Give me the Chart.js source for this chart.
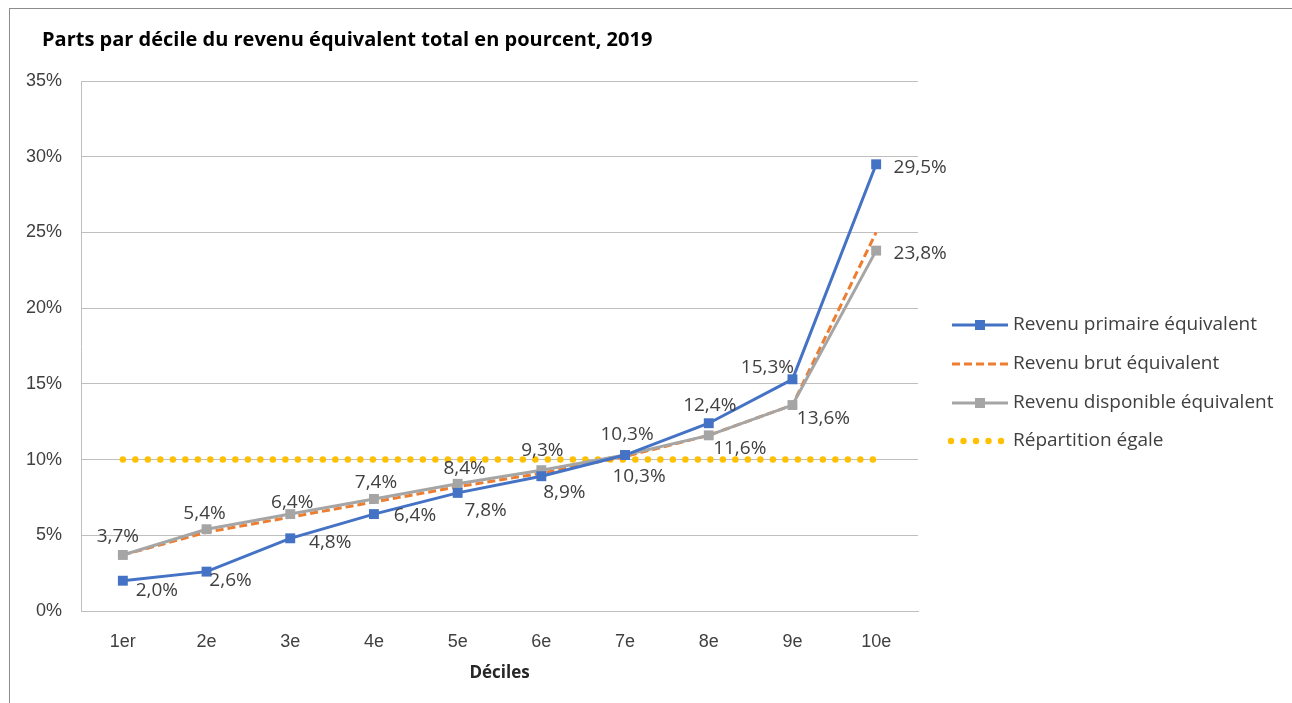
<!DOCTYPE html>
<html lang="fr">
<head>
    <meta charset="UTF-8">
    <title>Parts par décile du revenu équivalent</title>
    <script src="https://cdn.jsdelivr.net/npm/chart.js"></script>
    <style>
        * { margin: 0; padding: 0; box-sizing: border-box; }
        body { background: white; width: 1292px; height: 703px; overflow: hidden; }
        .frame {
            position: absolute; left: 9px; top: 8px; width: 1283px; height: 695px;
            border-top: 1px solid #8c8c8c; border-left: 1px solid #8c8c8c;
        }
        .wrap { position: absolute; left: 0; top: 0; width: 1292px; height: 703px; }
    </style>
</head>
<body>
<div class="frame"></div>
<div class="wrap"><canvas id="chart" width="1292" height="703"></canvas></div>
<script>
// data
const deciles = ["1er", "2e", "3e", "4e", "5e", "6e", "7e", "8e", "9e", "10e"];
const revenuPrimaire = [2.0, 2.6, 4.8, 6.4, 7.8, 8.9, 10.3, 12.4, 15.3, 29.5];
const revenuBrut = [3.7, 5.2, 6.2, 7.2, 8.2, 9.1, 10.2, 11.6, 13.6, 25.0];
const revenuDisponible = [3.7, 5.4, 6.4, 7.4, 8.4, 9.3, 10.3, 11.6, 13.6, 23.8];
const repartitionEgale = [10, 10, 10, 10, 10, 10, 10, 10, 10, 10];
const yTicks = [0, 5, 10, 15, 20, 25, 30, 35];

const seriesNames = ["Revenu primaire équivalent", "Revenu brut équivalent",
    "Revenu disponible équivalent", "Répartition égale"];

// label offsets (centre of label relative to point)
const primaireLabelOffset = [[34, 10], [24, 9], [40, 4], [41, 2], [28, 18], [23, 16], [14, 22], [1, -18], [-25, -12], [44, 3]];
const disponibleLabelOffset = [[-5, -18], [-2, -16], [2, -11], [2, -16], [7, -15], [1, -20], [2, -20], [31, 13], [31, 14], [44, 3]];

const BLUE = "#4472C4", ORANGE = "#ED7D31", GREY = "#A5A5A5", YELLOW = "#FFC000";
const labelFont = '19px "Open Sans", sans-serif';

const fmt = v => v.toFixed(1).replace(".", ",") + "%";

const dataLabels = {
    id: "dataLabels",
    afterDatasetsDraw(chart) {
        const ctx = chart.ctx;
        ctx.save();
        ctx.font = labelFont;
        ctx.fillStyle = "#404040";
        ctx.textAlign = "center";
        ctx.textBaseline = "middle";
        [[0, revenuPrimaire, primaireLabelOffset], [2, revenuDisponible, disponibleLabelOffset]].forEach(([idx, vals, offs]) => {
            const meta = chart.getDatasetMeta(idx);
            meta.data.forEach((pt, i) => {
                ctx.fillText(fmt(vals[i]), pt.x + offs[i][0], pt.y + offs[i][1]);
            });
        });
        ctx.restore();
    }
};

const sideLegend = {
    id: "sideLegend",
    afterDraw(chart) {
        const ctx = chart.ctx;
        const x0 = 952, x1 = 1008, textX = 1013;
        const rows = [325, 364, 403, 441];
        ctx.save();
        ctx.font = '19px "Open Sans", sans-serif';
        ctx.fillStyle = "#404040";
        ctx.textBaseline = "middle";
        rows.forEach((y, i) => {
            ctx.save();
            if (i === 0 || i === 2) {
                ctx.strokeStyle = i === 0 ? BLUE : GREY;
                ctx.lineWidth = 3;
                ctx.beginPath(); ctx.moveTo(x0, y); ctx.lineTo(x1, y); ctx.stroke();
                ctx.fillStyle = i === 0 ? BLUE : GREY;
                ctx.fillRect(975, y - 5, 10, 10);
            } else if (i === 1) {
                ctx.strokeStyle = ORANGE;
                ctx.lineWidth = 3;
                ctx.setLineDash([8, 4]);
                ctx.beginPath(); ctx.moveTo(x0, y); ctx.lineTo(x1, y); ctx.stroke();
            } else {
                ctx.fillStyle = YELLOW;
                for (let k = 0; k < 5; k++) {
                    ctx.beginPath(); ctx.arc(x0 - 1 + k * 12.5, y, 3.2, 0, Math.PI * 2); ctx.fill();
                }
            }
            ctx.restore();
            ctx.fillText(seriesNames[i], textX, y);
        });
        ctx.restore();
    }
};

new Chart(document.getElementById("chart"), {
    type: "line",
    data: {
        labels: deciles,
        datasets: [
            { label: seriesNames[0], data: revenuPrimaire, borderColor: BLUE, backgroundColor: BLUE,
              borderWidth: 3, pointStyle: "rect", pointRadius: 7, pointBorderWidth: 0, order: 1 },
            { label: seriesNames[1], data: revenuBrut, borderColor: ORANGE, borderWidth: 3,
              borderDash: [8, 4], pointRadius: 0, order: 3 },
            { label: seriesNames[2], data: revenuDisponible, borderColor: GREY, backgroundColor: GREY,
              borderWidth: 3, pointStyle: "rect", pointRadius: 7, pointBorderWidth: 0, order: 2 },
            { label: seriesNames[3], data: repartitionEgale, borderColor: YELLOW, borderWidth: 6.5,
              borderDash: [0, 12.5], borderCapStyle: "round", pointRadius: 0, order: 4 }
        ]
    },
    options: {
        responsive: false,
        animation: false,
        layout: { padding: { left: 0, right: 374, top: 81, bottom: 0 } },
        plugins: {
            legend: { display: false },
            tooltip: { enabled: false },
            title: { display: false }
        },
        scales: {
            x: {
                offset: true,
                grid: { display: false, drawTicks: false },
                border: { color: "#BFBFBF", width: 1 },
                ticks: { color: "#404040", font: { family: "Liberation Sans", size: 18 }, padding: 20 },
                title: { display: true, text: "Déciles", color: "#262626",
                         font: { family: "Open Sans", size: 17, weight: "bold" }, padding: { top: 8, bottom: 20 } },
                afterFit(scale) { scale.height = 92; }
            },
            y: {
                min: 0, max: 35,
                afterBuildTicks(scale) { scale.ticks = yTicks.map(v => ({ value: v })); },
                grid: { color: "#BFBFBF", drawTicks: false },
                border: { color: "#BFBFBF", width: 1 },
                ticks: { color: "#404040", font: { family: "Liberation Sans", size: 18 }, padding: 19,
                         callback: v => v + "%" },
                afterFit(scale) { scale.width = 81; }
            }
        }
    },
    plugins: [dataLabels, sideLegend, {
        id: "titleText",
        afterDraw(chart) {
            const ctx = chart.ctx;
            ctx.save();
            ctx.font = 'bold 20px "Open Sans", sans-serif';
            ctx.fillStyle = "#000000";
            ctx.textBaseline = "middle";
            ctx.fillText("Parts par décile du revenu équivalent total en pourcent, 2019", 42, 40);
            ctx.restore();
        }
    }]
});
</script>
</body>
</html>
